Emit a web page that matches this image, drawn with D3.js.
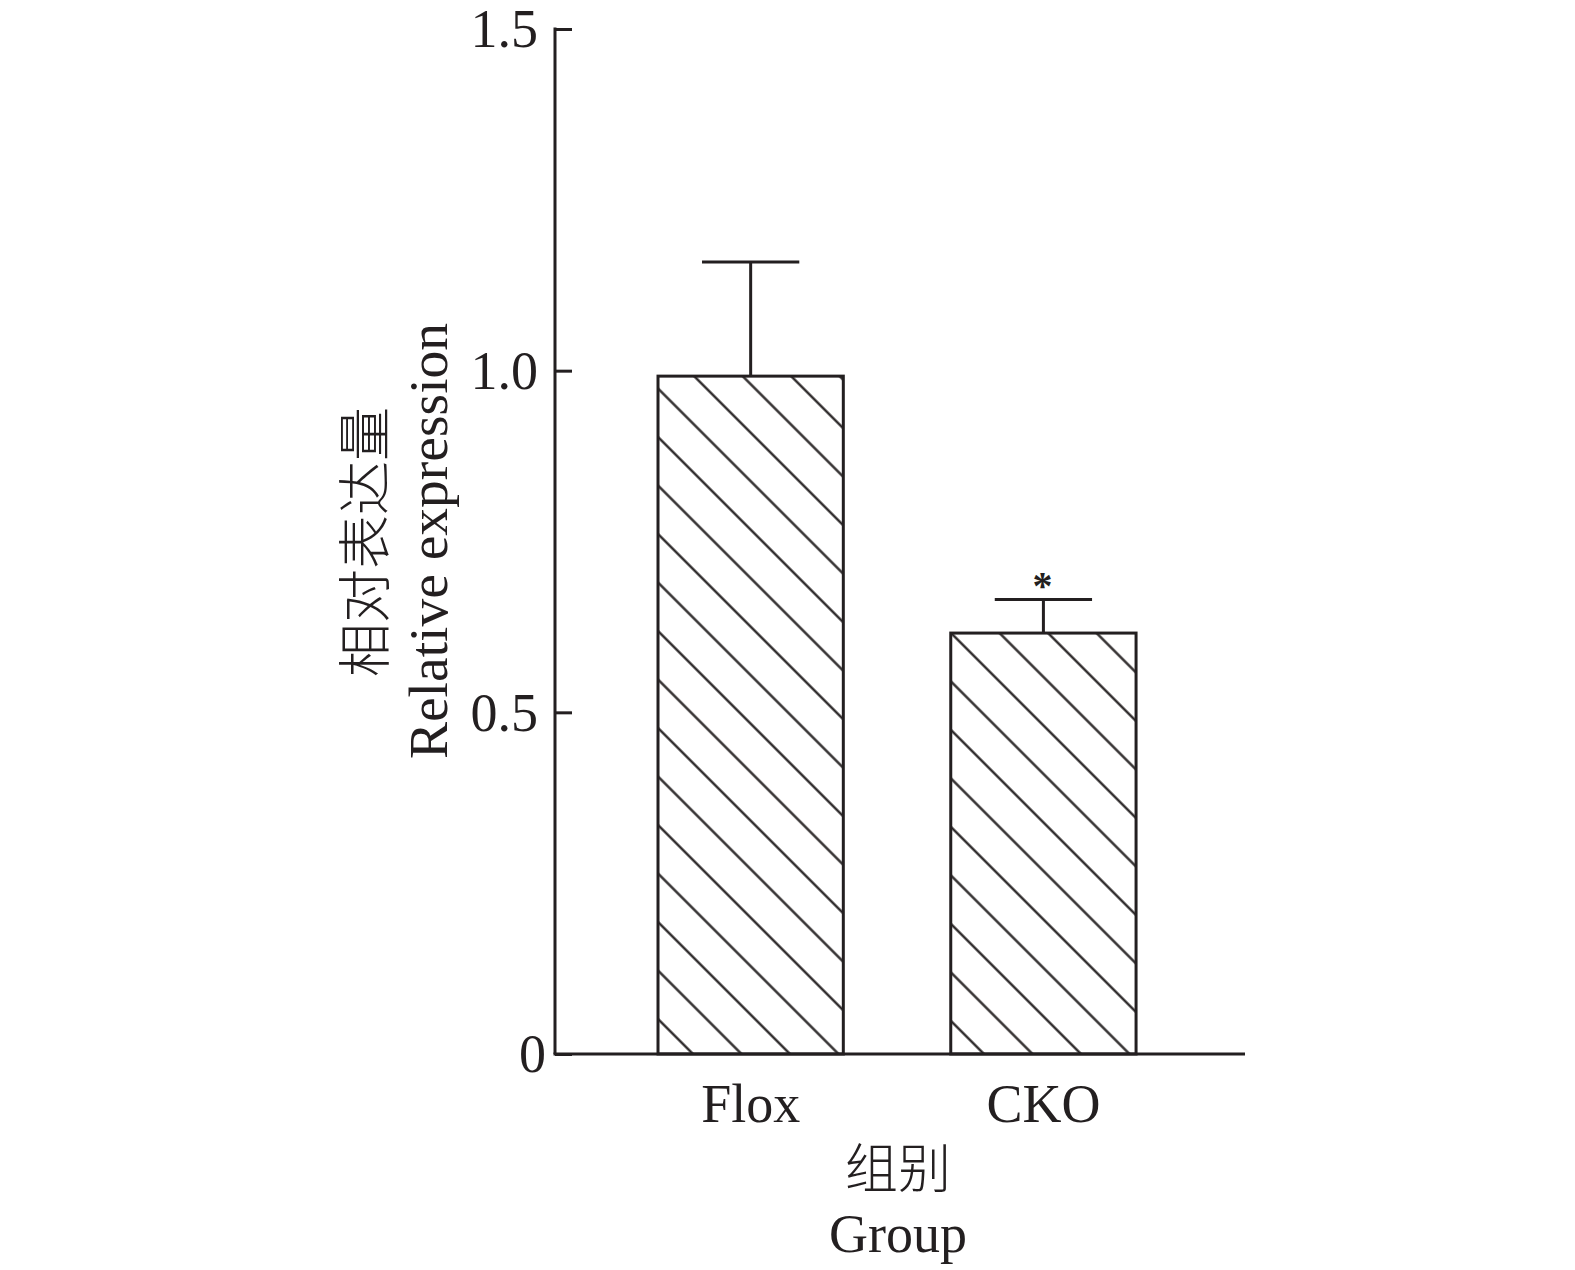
<!DOCTYPE html>
<html><head><meta charset="utf-8">
<script src="https://cdn.jsdelivr.net/npm/d3@7"></script>
<style>html,body{margin:0;padding:0;background:#fff;}svg{display:block;}</style>
</head><body>
<script>
const categories = ["Flox", "CKO"];
const values = [0.992, 0.616];
const errors = [0.167, 0.049];
const significance = ["", "*"];
const yTicks = [0, 0.5, 1.0, 1.5];
const yTickLabels = ["0", "0.5", "1.0", "1.5"];
const yTitle = ["相对表达量", "Relative expression"];
const xTitle = ["组别", "Group"];

const W = 1575, H = 1270;
const ink = "#231f20";
const latin = "'Liberation Serif','Times New Roman',serif";
const cjk = "'Noto Sans CJK SC','Noto Sans CJK JP',sans-serif";

const svg = d3.select("body").append("svg").attr("width", W).attr("height", H);

const x0 = 555, x1 = 1245, yBase = 1054, yTop = 29;
const y = d3.scaleLinear().domain([0, 1.5]).range([yBase, yTop]);
const x = d3.scaleBand().domain(categories).range([x0, x1])
  .paddingInner(0.367).paddingOuter(0.362).align(0.486);

// hatch pattern (global, user space)
const spacing = 48.5 / Math.SQRT2;
const phase = ((318 / Math.SQRT2) % spacing + spacing) % spacing;
const defs = svg.append("defs");
const pat = defs.append("pattern").attr("id", "hatch")
  .attr("patternUnits", "userSpaceOnUse")
  .attr("width", spacing).attr("height", 20)
  .attr("patternTransform", "rotate(-45)");
pat.append("line").attr("x1", phase).attr("x2", phase).attr("y1", -5).attr("y2", 25)
  .attr("stroke", ink).attr("stroke-width", 2.3);

// bars
const bw = x.bandwidth();
svg.selectAll("rect.bar").data(categories).enter().append("rect")
  .attr("class", "bar")
  .attr("x", d => x(d))
  .attr("y", (d, i) => y(values[i]))
  .attr("width", bw)
  .attr("height", (d, i) => yBase - y(values[i]))
  .attr("fill", "url(#hatch)")
  .attr("stroke", ink).attr("stroke-width", 3);

// error bars
const capW = bw * 0.525;
categories.forEach((c, i) => {
  const cx = x(c) + bw / 2;
  const top = y(values[i] + errors[i]);
  svg.append("line").attr("x1", cx).attr("x2", cx)
    .attr("y1", y(values[i])).attr("y2", top)
    .attr("stroke", ink).attr("stroke-width", 3);
  svg.append("line").attr("x1", cx - capW / 2).attr("x2", cx + capW / 2)
    .attr("y1", top).attr("y2", top)
    .attr("stroke", ink).attr("stroke-width", 3);
  if (significance[i]) {
    svg.append("text").attr("x", cx - 1).attr("y", top - 1)
      .attr("text-anchor", "middle")
      .style("font-family", latin).style("font-size", "40px").style("font-weight", "bold")
      .attr("fill", ink)
      .text(significance[i]);
  }
});

// y axis
const yAxis = d3.axisRight(y).tickValues(yTicks).tickSize(17)
  .tickFormat(() => "").tickSizeOuter(0);
const ya = svg.append("g").attr("transform", `translate(${x0},0)`).call(yAxis);
ya.select(".domain").attr("stroke", ink).attr("stroke-width", 3)
  .attr("d", `M0,${yTop - 1.5}V${yBase}`);
ya.selectAll(".tick line").attr("stroke", ink).attr("stroke-width", 3);
svg.selectAll("text.ytl").data(yTicks).enter().append("text")
  .attr("class", "ytl")
  .attr("x", (d, i) => yTickLabels[i].length === 1 ? x0 - 9 : x0 - 17)
  .attr("y", d => y(d))
  .attr("dy", "0.34em")
  .attr("text-anchor", "end")
  .style("font-family", latin).style("font-size", "54px").attr("fill", ink)
  .text((d, i) => yTickLabels[i]);

// x axis
const xAxis = d3.axisBottom(x).tickSize(0).tickSizeOuter(0);
const xa = svg.append("g").attr("transform", `translate(0,${yBase})`).call(xAxis);
xa.select(".domain").attr("stroke", ink).attr("stroke-width", 3)
  .attr("d", `M${x0 - 1.5},0H${x1}`);
xa.selectAll(".tick text")
  .attr("y", 68).attr("dy", 0)
  .style("font-family", latin).style("font-size", "54px").attr("fill", ink);

// axis titles
svg.append("text")
  .attr("transform", `translate(361,542) rotate(-90)`)
  .attr("text-anchor", "middle").attr("dominant-baseline", "central")
  .style("font-family", cjk).style("font-size", "54px").style("font-weight", 300)
  .attr("fill", ink).text(yTitle[0]);
svg.append("text")
  .attr("transform", `translate(447,541) rotate(-90)`)
  .attr("text-anchor", "middle")
  .style("font-family", latin).style("font-size", "55.5px")
  .attr("fill", ink).text(yTitle[1]);
svg.append("text")
  .attr("x", 898).attr("y", 1165)
  .attr("text-anchor", "middle").attr("dominant-baseline", "central")
  .style("font-family", cjk).style("font-size", "53px").style("font-weight", 300)
  .attr("fill", ink).text(xTitle[0]);
svg.append("text")
  .attr("x", 898).attr("y", 1252)
  .attr("text-anchor", "middle")
  .style("font-family", latin).style("font-size", "54px")
  .attr("fill", ink).text(xTitle[1]);
</script>
</body></html>
